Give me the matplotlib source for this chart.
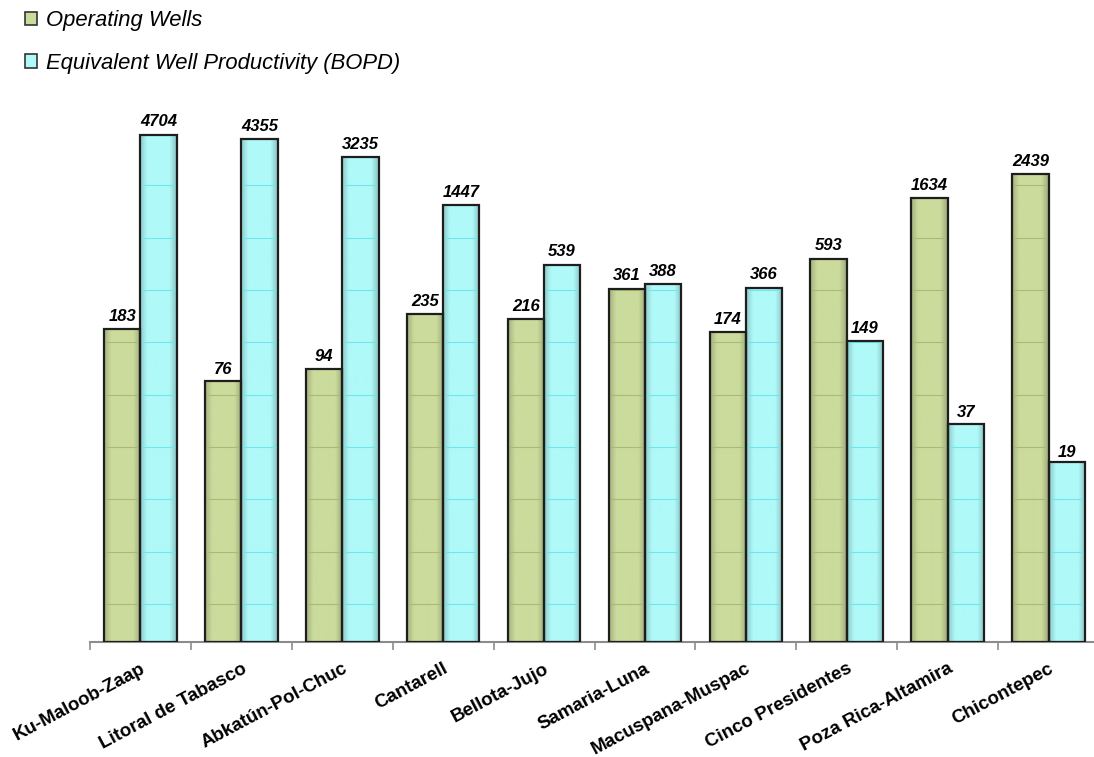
import numpy as np
import matplotlib.pyplot as plt
from matplotlib.patches import Patch

plt.rcParams['font.family'] = ['Liberation Sans', 'DejaVu Sans']

# data
fields = ['Ku-Maloob-Zaap', 'Litoral de Tabasco', 'Abkatún-Pol-Chuc', 'Cantarell',
          'Bellota-Jujo', 'Samaria-Luna', 'Macuspana-Muspac', 'Cinco Presidentes',
          'Poza Rica-Altamira', 'Chicontepec']
operating_wells = [183, 76, 94, 235, 216, 361, 174, 593, 1634, 2439]
well_productivity = [4704, 4355, 3235, 1447, 539, 388, 366, 149, 37, 19]
series_names = ['Operating Wells', 'Equivalent Well Productivity (BOPD)']

green = '#cbdb9c'
cyan = '#b0f9f9'
edge = '#1e1e1e'

# faint texture lines inside the bars (log10 positions)
grid_logs = 0.276 + 0.3787 * np.arange(10)


def shaded_bar(ax, rect, color, line_color):
    # horizontal shading so the bars look a bit rounded, like the original
    x0 = rect.get_x()
    x1 = x0 + rect.get_width()
    top = rect.get_height() + 1
    t = np.linspace(0, 1, 64)
    prof = np.ones(64)
    prof -= 0.18 * np.clip((0.18 - t) / 0.18, 0, 1)
    prof -= 0.22 * np.clip((t - 0.80) / 0.20, 0, 1)
    base = np.array(plt.matplotlib.colors.to_rgb(color))
    img = (base[None, :] * prof[:, None])[None, :, :]
    im = ax.imshow(img, extent=[x0, x1, 0.8, top * 1.3], aspect='auto', zorder=2,
                   interpolation='bilinear')
    im.set_clip_path(rect)
    lc = ax.hlines(10 ** grid_logs, x0, x1, colors=line_color, linewidth=0.8, zorder=3)
    lc.set_clip_path(rect)


fig = plt.figure(figsize=(10.94, 7.57), dpi=100)
ax = fig.add_axes([90 / 1094, 0.1519, 1009 / 1094, 0.7299])
ax.set_yscale('log')

x = np.arange(len(fields))
w = 0.36
b1 = ax.bar(x - w / 2, operating_wells, w, bottom=1, color=green, edgecolor=edge,
            linewidth=1.6, zorder=4, label=series_names[0])
b2 = ax.bar(x + w / 2, well_productivity, w, bottom=1, color=cyan, edgecolor=edge,
            linewidth=1.6, zorder=4, label=series_names[1])

for r in b1:
    r.set_facecolor('none')
    shaded_bar(ax, r, green, '#a9bb72')
for r in b2:
    r.set_facecolor('none')
    shaded_bar(ax, r, cyan, '#6fe6ea')

for bars, vals in ((b1, operating_wells), (b2, well_productivity)):
    for r, v in zip(bars, vals):
        ax.annotate(str(v), (r.get_x() + r.get_width() / 2, v), xytext=(0, 4),
                    textcoords='offset points', ha='center', va='bottom',
                    fontsize=12, fontweight='bold', fontstyle='italic', zorder=5)

ax.set_xlim(-0.5, 9.5)
ax.set_ylim(1, 10000)

for s in ['top', 'right', 'left']:
    ax.spines[s].set_visible(False)
ax.spines['bottom'].set_color('#8c8c8c')
ax.spines['bottom'].set_linewidth(1.5)
ax.yaxis.set_visible(False)

ax.set_xticks(x)
ax.set_xticklabels(fields, rotation=28, ha='right', rotation_mode='anchor',
                   fontsize=13.5, fontweight='bold')
ax.tick_params(axis='x', which='major', length=0, pad=13)
ax.set_xticks(np.arange(-0.5, 10, 1), minor=True)
ax.tick_params(axis='x', which='minor', length=6, width=1.2, color='#8c8c8c')

handles = [Patch(facecolor=green, edgecolor='#333333', linewidth=1.2),
           Patch(facecolor=cyan, edgecolor='#333333', linewidth=1.2)]
fig.legend(handles, series_names, loc='upper left', bbox_to_anchor=(0.005, 1.013),
           frameon=False, prop=dict(style='italic', size=15.8),
           handlelength=0.55, handleheight=0.55, handletextpad=0.4, labelspacing=1.0)

fig.savefig('out.png', dpi=100)
